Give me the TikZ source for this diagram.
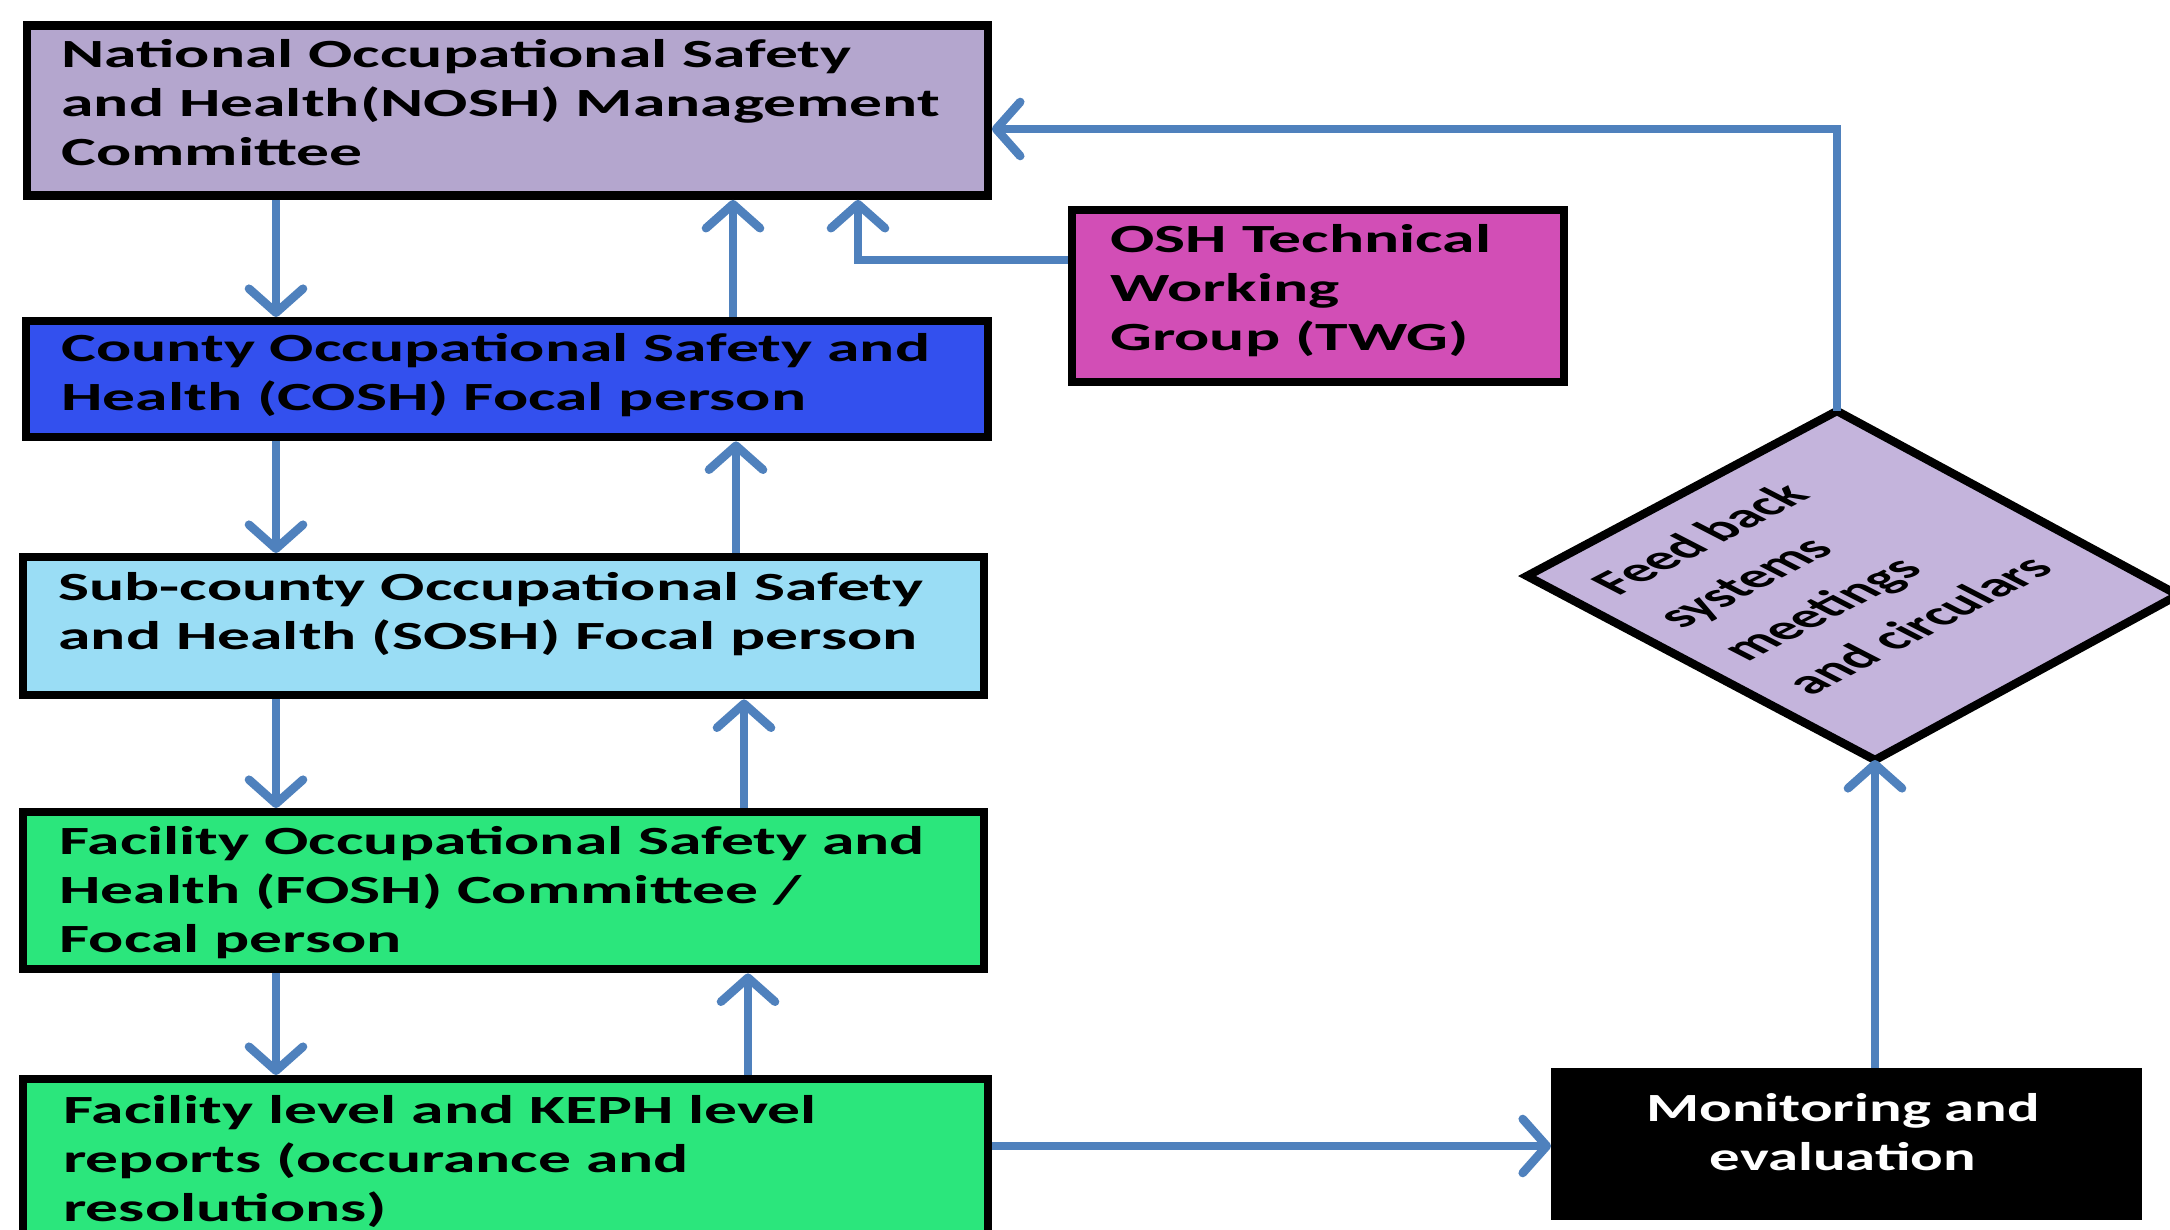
\documentclass[tikz,border=0pt]{standalone}
\usepackage{fontspec}
\setmainfont{Carlito}[FakeStretch=1.64]
\newfontfamily\plainfont{Carlito}
\newfontfamily\monfont{Carlito}[FakeStretch=1.52]
\usetikzlibrary{arrows.meta,calc}
\definecolor{arrowblue}{HTML}{4F81BD}
\definecolor{noshc}{HTML}{B4A6CE}
\definecolor{coshc}{HTML}{3350EE}
\definecolor{soshc}{HTML}{9ADDF5}
\definecolor{greenc}{HTML}{2BE67C}
\definecolor{twgc}{HTML}{D24EB6}
\definecolor{diac}{HTML}{C4B4DC}
\tikzset{
  box/.style={draw=black, line width=4.2pt, anchor=north west, inner sep=0pt},
  boxtext/.style={anchor=west, inner sep=0pt, align=left,
    font=\fontsize{20pt}{24.5pt}\selectfont\bfseries, text=black},
  arr/.style={draw=arrowblue, line width=4.3pt, -{Straight Barb[length=12pt,width=27pt,round]}},
}
\begin{document}
\begin{tikzpicture}[x=0.5pt,y=-0.5pt]
\useasboundingbox (0,0) rectangle (2170,1230);
\clip (0,0) rectangle (2170,1230);
\fill[white] (0,0) rectangle (2170,1230);

% boxes
\node[box, fill=noshc, minimum width=480.5pt, minimum height=85pt] (nosh) at (22.5,21.5) {};
\node[box, fill=coshc, minimum width=481pt, minimum height=58pt] (cosh) at (22,317) {};
\node[box, fill=soshc, minimum width=480.5pt, minimum height=69pt] (sosh) at (19,553) {};
\node[box, fill=greenc, minimum width=480.5pt, minimum height=78.5pt] (fosh) at (19,808) {};
\node[box, fill=greenc, minimum width=482.5pt, minimum height=87.5pt] (rep) at (19,1075) {};
\node[box, fill=twgc, minimum width=246pt, minimum height=86pt] (twg) at (1068,206) {};
\node[box, fill=black, minimum width=291.5pt, minimum height=72pt] (mon) at (1551,1068) {};

% box texts
\node[boxtext] (noshtext) at (61,102.5)
  {National Occupational Safety\\and Health(NOSH) Management\\Committee};
\node[boxtext] (coshtext) at (61,375)
  {County Occupational Safety and\\Health (COSH) Focal person};
\node[boxtext] (soshtext) at (58,614)
  {Sub-county Occupational Safety\\and Health (SOSH) Focal person};
\node[boxtext] (foshtext) at (59,892.5)
  {Facility Occupational Safety and\\Health (FOSH) Committee /\\Focal person};
\node[boxtext] (reptext) at (63,1161.5)
  {Facility level and KEPH level\\reports (occurance and\\resolutions)};
\node[boxtext] (twgtext) at (1110,291)
  {OSH Technical\\Working\\Group (TWG)};
\node[boxtext, anchor=center, align=center, text=white,
  font=\monfont\fontsize{20pt}{24.5pt}\selectfont\bfseries] (montext) at (1843,1132)
  {Monitoring and\\evaluation};

% diamond
\coordinate (dL) at (1527,576);
\coordinate (dT) at (1837,411);
\coordinate (dR) at (2178,595);
\coordinate (dB) at (1875,760);
\draw[line width=4.2pt, fill=diac, line join=miter] (dL) -- (dT) -- (dR) -- (dB) -- cycle;
\begin{scope}[shift={(1821,575)}, xscale=1.94]
  \node[transform shape, rotate=45, align=left, inner sep=0pt,
    font=\plainfont\fontsize{17pt}{23.5pt}\selectfont\bfseries] (fbtext) at (0,0)
    {Feed back\\systems\\meetings\\and circulars};
\end{scope}

% column coordinates
\coordinate (cd) at (276,0);
\coordinate (u1) at (733,0);
\coordinate (u2) at (736,0);
\coordinate (u3) at (744,0);
\coordinate (u4) at (748,0);
\coordinate (tw) at (858,260);
\coordinate (rm) at (0,1146);
\coordinate (fbc) at (0,129);

% down arrows
\draw[arr] (nosh.south -| cd) -- (cosh.north -| cd);
\draw[arr] (cosh.south -| cd) -- (sosh.north -| cd);
\draw[arr] (sosh.south -| cd) -- (fosh.north -| cd);
\draw[arr] (fosh.south -| cd) -- (rep.north -| cd);
% up arrows
\draw[arr] (cosh.north -| u1) -- (nosh.south -| u1);
\draw[arr] (sosh.north -| u2) -- (cosh.south -| u2);
\draw[arr] (fosh.north -| u3) -- (sosh.south -| u3);
\draw[arr] (rep.north -| u4) -- (fosh.south -| u4);
% TWG
\draw[arr] (twg.west |- tw) -- (tw) -- (nosh.south -| tw);
% reports to monitoring
\draw[arr] (rep.east |- rm) -- (mon.west |- rm);
% monitoring to diamond
\draw[arr] (mon.north -| dB) -- (dB);
% feedback
\draw[arr] (dT) -- (dT |- fbc) -- (nosh.east |- fbc);
\end{tikzpicture}
\end{document}
